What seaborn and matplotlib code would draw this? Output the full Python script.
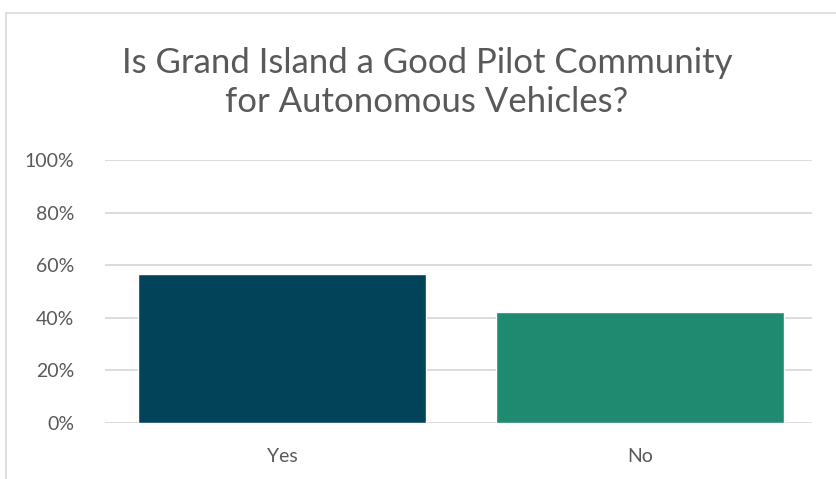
import seaborn as sns
import matplotlib.pyplot as plt
from matplotlib.lines import Line2D
from matplotlib.ticker import PercentFormatter

categories = ['Yes', 'No']
shares = [0.568, 0.422]
bar_colors = ['#02435a', '#1f8a70']
title = 'Is Grand Island a Good Pilot Community\nfor Autonomous Vehicles?'

sns.set_style('white')
plt.rcParams['font.family'] = ['Liberation Sans Narrow', 'Lato', 'DejaVu Sans']

fig = plt.figure(figsize=(8.37, 4.79), dpi=100)
ax = fig.add_axes([0.1255, 0.1169, 0.8445, 0.549])

sns.barplot(x=categories, y=shares, hue=categories, palette=bar_colors,
            width=0.805, legend=False, ax=ax, zorder=3, saturation=1)

ax.set_ylim(0, 1)
ax.set_xlim(-0.494, 1.480)
ax.set_yticks([0, 0.2, 0.4, 0.6, 0.8, 1.0])
ax.yaxis.set_major_formatter(PercentFormatter(1.0, decimals=0))
ax.grid(axis='y', color='#d9d9d9', linewidth=1.3, zorder=0)
for s in ax.spines.values():
    s.set_visible(False)
ax.tick_params(axis='both', length=0, labelsize=14, labelcolor='#595959')
ax.tick_params(axis='y', pad=22)
ax.tick_params(axis='x', pad=18)

fig.text(0.51, 0.828, title, ha='center', va='center', fontsize=25,
         color='#595959', linespacing=1.25)

# outer chart frame (top and left edges visible)
fig.add_artist(Line2D([6 / 837, 6 / 837], [0, 1 - 13 / 479], transform=fig.transFigure,
                      color='#d9d9d9', linewidth=1.2))
fig.add_artist(Line2D([6 / 837, 1], [1 - 13 / 479, 1 - 13 / 479], transform=fig.transFigure,
                      color='#d9d9d9', linewidth=1.2))

fig.savefig('out.png', dpi=100)
